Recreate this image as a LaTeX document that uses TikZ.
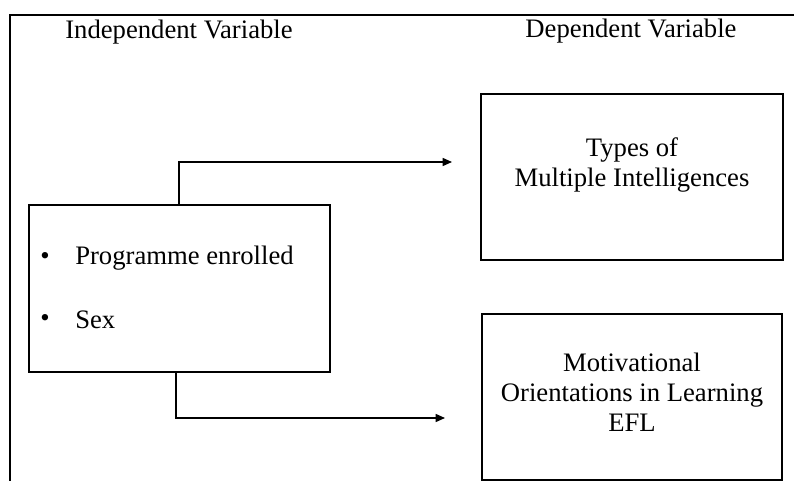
\documentclass[tikz,border=0pt]{standalone}
\usepackage{fontspec}
\setmainfont{Liberation Serif}
\usetikzlibrary{arrows.meta}
\begin{document}
\begin{tikzpicture}[x=0.75pt,y=-0.75pt,
  box/.style={draw=black,line width=1.5pt,inner sep=0pt},
  lbl/.style={inner sep=0pt,align=center,font=\fontsize{20}{22.5}\selectfont},
  conn/.style={draw=black,line width=1.1pt,-{Triangle[length=7pt,width=6pt]}},
  frame/.style={draw=black,line width=1.6pt}]
\useasboundingbox (0,0) rectangle (794,481);
% frame
\draw[frame] (794,15) -- (10,15) -- (10,481);
% headings
\node[lbl] (indep) at (179,32) {Independent Variable};
\node[lbl] (dep) at (631,31) {Dependent Variable};
% boxes
\node[box,minimum width=301*0.75pt,minimum height=167*0.75pt] (iv) at (179.5,288.5) {};
\node[box,minimum width=302*0.75pt,minimum height=166*0.75pt] (mi) at (632,177) {};
\node[box,minimum width=300*0.75pt,minimum height=166*0.75pt] (mo) at (632,397) {};
\node[lbl] (mitext) at (632,165) {Types of\\Multiple Intelligences};
\node[lbl] (motext) at (632,392) {Motivational\\Orientations in Learning\\EFL};
% bullet items
\node[lbl] (b1) at (45,258) {•};
\node[lbl,anchor=west] (t1) at (75,258) {Programme enrolled};
\node[lbl] (b2) at (45,320) {•};
\node[lbl,anchor=west] (t2) at (75,320) {Sex};
% connectors
\coordinate (e1) at (452,162);
\coordinate (e2) at (445,418);
\draw[conn] (iv.north -| 179,0) |- (e1);
\draw[conn] (iv.south -| 176,0) |- (e2);
\end{tikzpicture}
\end{document}
